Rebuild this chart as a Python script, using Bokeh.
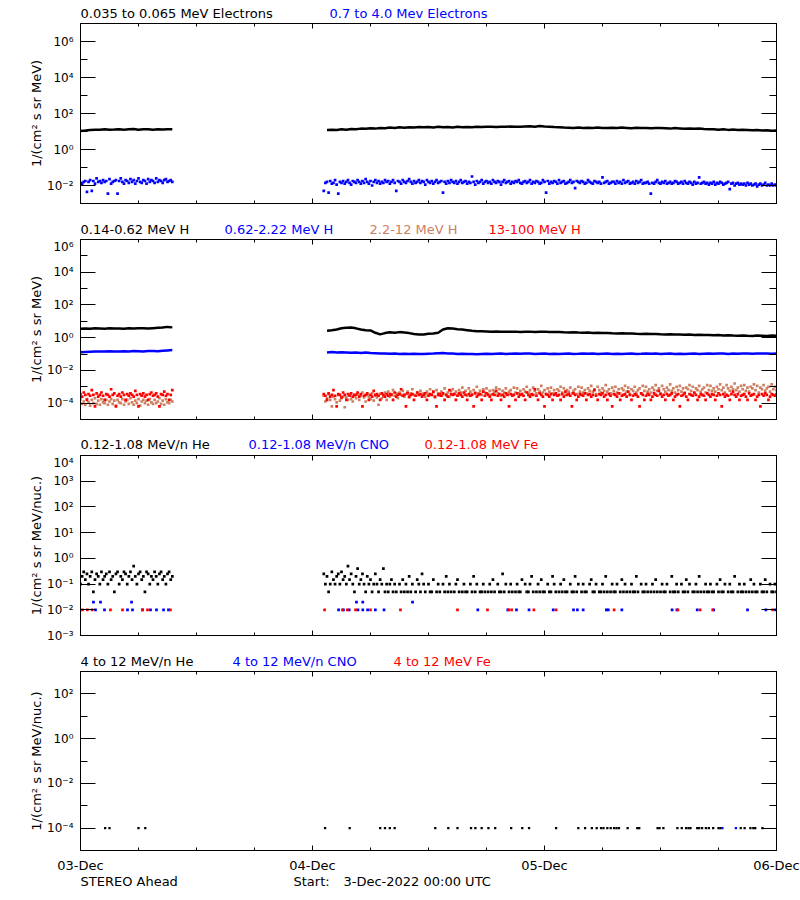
import json
import numpy as np
from bokeh.plotting import figure
from bokeh.layouts import column
from bokeh.models import Range1d, FixedTicker, CustomJSTickFormatter, LogAxis, LinearAxis
from bokeh.core.properties import value
from bokeh.embed import file_html
from bokeh.resources import INLINE

# ---------------- time bases (hours since 3-Dec-2022 00:00 UTC) ----------------
fine_minutes = np.concatenate([np.arange(0, 580, 10), np.arange(1510, 4321, 10)])     # 58 + 282
coarse_minutes = np.concatenate([np.arange(0, 600, 30), np.arange(1530, 4321, 30)])   # 20 + 94
N1_FINE, N1_COARSE = 58, 20

x_tick_hours = [0, 24, 48, 72]
x_minor_hours = [6, 12, 18, 30, 36, 42, 54, 60, 66]
x_tick_labels = ["03-Dec", "04-Dec", "05-Dec", "06-Dec"]

# ---------------- panel 1: electrons (log10 flux) ----------------
e_035_065_log = [
    1.03, 1.05, 1.08, 1.1, 1.1, 1.12, 1.1, 1.11, 1.13, 1.1, 1.12, 1.14, 1.1, 1.12, 1.13, 1.1, 1.12, 1.11, 1.13, 1.12,
    1.08, 1.1, 1.08, 1.12, 1.1, 1.14, 1.12, 1.16, 1.15, 1.18,
    1.16, 1.2, 1.18, 1.22, 1.2, 1.23, 1.21, 1.24, 1.22, 1.25,
    1.23, 1.25, 1.22, 1.26, 1.24, 1.25, 1.22, 1.26, 1.24, 1.25,
    1.24, 1.26, 1.25, 1.27, 1.26, 1.25, 1.27, 1.26, 1.28, 1.27,
    1.26, 1.28, 1.29, 1.27, 1.3, 1.28, 1.27, 1.25, 1.24, 1.22,
    1.21, 1.2, 1.22, 1.19, 1.21, 1.2, 1.22, 1.2, 1.19, 1.21,
    1.2, 1.22, 1.2, 1.18, 1.21, 1.19, 1.2, 1.18, 1.19, 1.2,
    1.18, 1.16, 1.19, 1.17, 1.15, 1.17, 1.15, 1.16, 1.14, 1.13,
    1.13, 1.1, 1.12, 1.09, 1.11, 1.08, 1.1, 1.09, 1.07, 1.08,
    1.06, 1.07, 1.04, 1.05]

e_07_40_log = [
    -1.85, -1.9, -1.8, -1.75, -2.35, -1.8, -1.7, -2.3, -1.75, -1.9,
    -1.6, -1.8, -1.75, -1.85, -1.7, -1.8, -1.75, -2.45, -1.65, -1.9,
    -1.8, -1.75, -1.7, -2.45, -1.75, -1.6, -1.8, -1.9, -1.7, -1.75,
    -1.85, -1.65, -1.8, -1.7, -1.9, -1.75, -1.6, -1.8, -1.85, -1.7,
    -1.75, -1.9, -1.65, -1.8, -1.7, -1.75, -1.85, -1.6, -1.8, -1.7,
    -1.75, -1.85, -1.7, -1.65, -1.8, -1.75, -1.7, -1.8,
    -2.3, -1.85, -1.8, -2.4, -1.75, -1.9, -1.85, -1.7, -1.95, -2.45,
    -1.8, -1.85, -1.75, -1.9, -1.8, -1.7, -1.85, -1.95, -1.75, -1.8,
    -1.85, -1.7, -1.8, -1.9, -1.75, -1.85, -1.65, -1.8, -1.9, -1.75,
    -2.0, -1.8, -1.7, -1.85, -1.75, -1.9, -1.8, -1.85, -1.7, -1.8,
    -1.75, -1.9, -1.8, -1.7, -1.85, -2.3, -1.75, -1.8, -1.9, -1.7,
    -1.8, -1.85, -1.75, -1.65, -1.8, -1.9, -1.75, -1.85, -1.8, -1.7,
    -1.85, -1.75, -1.8, -1.95, -1.7, -1.8, -1.85, -1.75, -1.9, -1.8,
    -1.7, -1.85, -1.8, -1.75, -2.4, -1.8, -1.9, -1.75, -1.85, -1.7,
    -1.8, -1.85, -1.75, -1.9, -1.8, -1.7, -1.85, -1.8, -1.75, -1.9,
    -1.8, -1.85, -1.5, -1.8, -1.95, -1.75, -1.85, -1.8, -1.7, -1.9,
    -1.8, -1.75, -1.85, -1.8, -1.9, -1.7, -1.8, -1.85, -1.75, -1.8,
    -1.95, -1.8, -1.7, -1.85, -1.8, -1.75, -1.9, -1.8, -1.85, -1.75,
    -1.8, -1.7, -1.85, -1.9, -1.8, -1.75, -1.85, -1.8, -1.7, -1.9,
    -1.8, -1.85, -1.75, -1.8, -1.9, -1.85, -1.7, -1.8, -2.4, -1.75,
    -1.9, -1.8, -1.85, -1.75, -1.8, -1.9, -1.7, -1.85, -1.8, -1.75,
    -1.9, -1.85, -1.8, -1.7, -1.85, -1.8, -2.15, -1.75, -1.8, -1.85,
    -1.75, -1.8, -1.9, -1.85, -1.7, -1.8, -1.85, -1.9, -1.75, -1.8,
    -1.85, -1.8, -1.9, -1.55, -1.85, -1.8, -1.75, -1.9, -1.85, -1.8,
    -1.8, -1.9, -1.75, -1.85, -1.8, -1.9, -1.7, -1.85, -1.8, -1.75,
    -1.9, -1.85, -1.8, -1.9, -1.75, -1.85, -1.8, -1.7, -1.9, -1.85,
    -1.85, -1.8, -1.9, -2.45, -1.85, -1.9, -1.8, -1.7, -1.85, -1.9,
    -1.8, -1.85, -1.75, -1.9, -1.85, -1.8, -1.9, -1.85, -1.75, -1.8,
    -1.9, -1.85, -1.8, -1.9, -1.75, -1.85, -1.9, -1.8, -1.85, -1.95,
    -1.8, -1.9, -1.85, -1.55, -1.9, -1.85, -1.8, -1.9, -1.85, -1.95,
    -1.85, -1.9, -1.8, -1.95, -1.85, -1.9, -1.8, -1.85, -1.95, -1.9,
    -1.85, -1.8, -2.2, -1.9, -1.85, -2.0, -1.9, -1.85, -1.95, -1.9,
    -1.95, -1.9, -2.0, -1.85, -1.95, -1.9, -2.0, -1.95, -1.9, -2.05,
    -1.95, -1.9, -2.0, -1.95, -1.85, -2.0, -1.95, -2.0, -1.9, -2.0,
    -1.95, -2.0]

# ---------------- panel 2: protons (log10 flux) ----------------
h_014_062_log = [
    0.55, 0.56, 0.55, 0.57, 0.56, 0.55, 0.57, 0.56, 0.56, 0.55, 0.57, 0.56, 0.58, 0.57, 0.56, 0.58, 0.6, 0.62, 0.66, 0.63,
    0.42, 0.45, 0.5, 0.58, 0.6, 0.62, 0.57, 0.5, 0.46, 0.44,
    0.3, 0.2, 0.28, 0.33, 0.3, 0.34, 0.31, 0.28, 0.22, 0.2,
    0.2, 0.24, 0.26, 0.3, 0.5, 0.58, 0.56, 0.52, 0.5, 0.46,
    0.42, 0.4, 0.39, 0.38, 0.37, 0.38, 0.36, 0.37, 0.36, 0.37,
    0.35, 0.36, 0.37, 0.35, 0.36, 0.37, 0.35, 0.34, 0.35, 0.33,
    0.32, 0.33, 0.31, 0.3, 0.31, 0.29, 0.3, 0.28, 0.29, 0.27,
    0.26, 0.27, 0.25, 0.26, 0.24, 0.23, 0.24, 0.22, 0.23, 0.21,
    0.2, 0.21, 0.19, 0.2, 0.18, 0.19, 0.17, 0.18, 0.16, 0.17,
    0.15, 0.16, 0.14, 0.15, 0.13, 0.12, 0.14, 0.12, 0.11, 0.13,
    0.12, 0.11, 0.13, 0.12]

h_062_222_log = [
    -0.89, -0.87, -0.86, -0.85, -0.84, -0.85, -0.83, -0.84, -0.85, -0.83,
    -0.84, -0.82, -0.83, -0.84, -0.82, -0.81, -0.83, -0.8, -0.78, -0.76,
    -0.9, -0.88, -0.91, -0.89, -0.9, -0.92, -0.9, -0.93, -0.91, -0.94,
    -0.95, -0.97, -0.96, -0.98, -0.97, -0.99, -0.98, -1.0, -0.98, -0.99,
    -1.0, -0.98, -0.97, -0.95, -0.94, -0.96, -0.97, -0.99, -0.98, -1.0,
    -0.99, -1.01, -0.99, -0.98, -1.0, -0.98, -0.97, -0.99, -0.98, -0.97,
    -0.98, -0.96, -0.97, -0.99, -0.98, -0.97, -0.99, -0.98, -1.0, -0.98,
    -0.97, -0.99, -0.98, -0.96, -0.98, -0.97, -0.99, -0.98, -0.97, -0.99,
    -0.98, -1.0, -0.98, -0.97, -0.99, -0.98, -0.96, -0.98, -0.97, -0.99,
    -0.98, -0.97, -0.99, -0.98, -1.0, -0.98, -0.97, -0.99, -0.98, -0.97,
    -0.98, -0.96, -0.97, -0.99, -0.97, -0.98, -0.96, -0.97, -0.98, -0.96,
    -0.97, -0.96, -0.98, -0.97]

h_22_12_log = [
    -3.75, -4.05, -3.9, -4.1, -3.75, -3.95, -4.15, -3.8, -4.0, -3.7,
    -4.05, -3.85, -4.1, -3.75, -3.95, -4.0, -3.8, -4.1, -3.9, -3.75,
    -4.05, -3.85, -4.15, -3.8, -3.95, -4.0, -3.75, -4.1, -3.9, -3.8,
    -4.05, -3.7, -3.95, -4.1, -3.85, -4.0, -3.75, -4.15, -3.9, -3.8,
    -4.0, -3.85, -4.1, -3.75, -3.95, -4.05, -3.8, -4.0, -3.9, -3.7,
    -4.05, -3.85, -4.1, -3.75, -3.95, -4.0, -3.8, -3.9,
    -3.55, -3.9, -3.7, -3.45, -3.8, -4.2, -3.6, -3.75, -3.95, -3.5,
    -3.85, -3.7, -3.6, -4.25, -3.65, -3.8, -3.5, -3.75, -3.9, -3.55,
    -3.7, -3.45, -3.8, -3.55, -3.35, -3.65, -3.9, -3.5, -3.6, -3.75,
    -3.4, -3.85, -3.55, -3.65, -4.1, -3.45, -3.7, -3.6, -3.35, -3.8,
    -3.3, -3.6, -3.45, -3.2, -3.55, -3.4, -3.7, -3.35, -3.5, -3.25,
    -3.6, -3.45, -3.3, -3.65, -3.4, -3.15, -3.5, -3.55, -3.35, -3.45,
    -3.25, -3.55, -3.4, -3.6, -3.3, -3.45, -3.15, -3.5, -3.35, -3.65,
    -3.2, -3.4, -3.55, -3.3, -3.45, -3.1, -3.5, -3.35, -3.6, -3.25,
    -3.15, -3.45, -3.3, -3.5, -3.2, -3.35, -3.05, -3.4, -3.25, -3.55,
    -3.1, -3.3, -3.45, -3.2, -3.35, -3.0, -3.4, -3.25, -3.5, -3.15,
    -3.35, -3.1, -3.45, -3.25, -3.5, -3.2, -3.3, -3.05, -3.4, -3.15,
    -3.55, -3.25, -3.35, -3.1, -3.45, -3.3, -3.2, -3.5, -3.05, -3.35,
    -3.1, -3.4, -3.25, -3.45, -3.15, -3.3, -3.0, -3.35, -3.2, -3.5,
    -3.05, -3.25, -3.4, -3.15, -3.3, -2.95, -3.35, -3.2, -3.45, -3.1,
    -3.3, -3.05, -3.4, -3.2, -3.45, -3.15, -3.25, -3.0, -3.35, -3.1,
    -3.5, -3.2, -3.3, -3.05, -3.4, -3.25, -3.15, -3.45, -3.0, -3.3,
    -3.05, -3.35, -3.2, -3.4, -3.1, -3.25, -2.95, -3.3, -3.15, -3.45,
    -3.0, -3.2, -3.35, -3.1, -3.25, -2.9, -3.3, -3.15, -3.4, -3.05,
    -3.25, -3.0, -3.35, -3.15, -3.4, -3.1, -3.2, -2.95, -3.3, -3.05,
    -3.45, -3.15, -3.25, -3.0, -3.35, -3.2, -3.1, -3.4, -2.95, -3.25,
    -3.0, -3.3, -3.15, -3.35, -3.05, -3.2, -2.9, -3.25, -3.1, -3.4,
    -2.95, -3.15, -3.3, -3.05, -3.2, -2.85, -3.25, -3.1, -3.35, -3.0,
    -3.2, -2.95, -3.3, -3.1, -3.35, -3.05, -3.15, -2.9, -3.25, -3.0,
    -3.4, -3.1, -3.2, -2.95, -3.3, -3.15, -3.05, -3.35, -2.9, -3.2,
    -2.95, -3.25, -3.1, -3.3, -3.0, -3.15, -2.85, -3.2, -3.05, -3.35,
    -2.9, -3.1, -3.25, -3.0, -3.15, -2.8, -3.2, -3.05, -3.3, -2.95,
    -3.15, -2.9, -3.25, -3.05, -3.3, -3.0, -3.1, -2.85, -3.2, -2.95,
    -3.35, -3.05, -3.15, -2.9, -3.25, -3.1, -3.0, -3.3, -2.85, -3.15,
    -3.0, -3.2]

h_13_100_log = [
    -3.45, -3.6, -3.35, -3.5, -3.8, -3.45, -3.55, -3.2, -3.5, -4.2,
    -3.4, -3.6, -3.5, -3.35, -3.55, -3.8, -3.45, -3.5, -3.6, -3.15,
    -3.5, -3.4, -4.2, -3.55, -3.45, -3.6, -3.35, -3.5, -3.8, -3.45,
    -3.55, -3.4, -3.5, -3.6, -3.25, -3.5, -4.2, -3.45, -3.55, -3.4,
    -3.6, -3.5, -3.8, -3.45, -3.35, -3.55, -3.5, -3.4, -3.6, -4.2,
    -3.45, -3.5, -3.3, -3.55, -3.45, -3.8, -3.5, -3.2,
    -3.45, -3.55, -3.8, -3.4, -3.6, -3.5, -3.2, -3.55, -4.2, -3.45,
    -3.5, -3.65, -3.35, -3.5, -3.8, -3.45, -3.55, -3.4, -3.6, -3.5,
    -3.5, -3.35, -3.6, -3.45, -4.2, -3.55, -3.5, -3.4, -3.8, -3.5,
    -3.6, -3.25, -3.5, -3.45, -3.55, -3.8, -3.4, -3.5, -3.6, -3.45,
    -3.55, -3.45, -3.5, -3.8, -3.35, -3.6, -3.5, -3.45, -3.15, -3.55,
    -3.5, -4.2, -3.4, -3.6, -3.5, -3.45, -3.8, -3.55, -3.35, -3.5,
    -3.45, -3.6, -3.5, -3.4, -3.8, -3.55, -3.45, -3.5, -3.3, -3.6,
    -4.2, -3.5, -3.45, -3.55, -3.4, -3.8, -3.5, -3.6, -3.2, -3.45,
    -3.5, -3.45, -3.8, -3.55, -3.4, -3.5, -3.6, -3.35, -3.5, -3.8,
    -3.45, -3.55, -3.5, -4.2, -3.4, -3.6, -3.5, -3.45, -3.8, -3.3,
    -3.55, -3.4, -3.5, -3.6, -3.8, -3.45, -3.5, -3.25, -3.55, -3.45,
    -3.8, -3.5, -3.6, -3.4, -3.5, -4.2, -3.45, -3.55, -3.5, -3.8,
    -3.4, -3.6, -3.5, -3.45, -3.55, -3.8, -3.35, -3.5, -3.6, -3.45,
    -3.5, -3.15, -3.55, -3.8, -3.4, -3.5, -3.6, -4.2, -3.45, -3.5,
    -3.6, -3.45, -3.8, -3.5, -3.4, -3.55, -3.5, -3.8, -3.45, -3.6,
    -3.3, -3.5, -3.45, -3.55, -4.2, -3.4, -3.5, -3.8, -3.6, -3.45,
    -3.5, -3.55, -3.4, -3.8, -3.5, -3.45, -3.6, -3.5, -3.2, -3.55,
    -3.8, -3.45, -3.5, -3.4, -3.6, -3.5, -3.8, -3.45, -3.55, -4.2,
    -3.45, -3.5, -3.6, -3.4, -3.8, -3.55, -3.5, -3.45, -3.6, -3.3,
    -3.5, -3.8, -3.55, -3.45, -3.5, -3.6, -4.2, -3.4, -3.5, -3.8,
    -3.55, -3.45, -3.5, -3.8, -3.6, -3.4, -3.5, -3.55, -3.25, -3.45,
    -3.6, -3.5, -3.8, -3.45, -3.55, -3.5, -3.4, -3.8, -3.6, -3.5,
    -3.45, -4.2, -3.55, -3.5, -3.4, -3.6, -3.8, -3.45, -3.5, -3.55,
    -3.35, -3.5, -3.8, -3.6, -3.45, -3.5, -3.55, -3.8, -3.4, -3.5,
    -3.6, -3.45, -3.5, -3.8, -3.55, -3.4, -3.5, -4.2, -3.45, -3.6,
    -3.5, -3.55, -3.8, -3.45, -3.3, -3.5, -3.6, -3.45, -3.8, -3.55,
    -3.5, -3.45, -3.6, -3.8, -3.4, -3.55, -3.5, -3.45, -3.8, -3.6,
    -3.5, -4.2, -3.45, -3.55, -3.4, -3.5, -3.8, -3.6, -3.45, -3.5,
    -3.55, -3.45]

# ---------------- panel 3: 0.12-1.08 MeV/n ions (flux; 0 = no counts) ----------------
he_012_108 = [
    0.1, 0.2, 0.3, 0.15, 0.25, 0.1, 0.2, 0.3, 0.05, 0.15,
    0.25, 0.2, 0.1, 0.3, 0.15, 0.2, 0.25, 0.1, 0.3, 0.15,
    0.2, 0.05, 0.25, 0.3, 0.1, 0.2, 0.15, 0.3, 0.25, 0.1,
    0.2, 0.3, 0.15, 0.5, 0.2, 0.1, 0.25, 0.3, 0.15, 0.2,
    0.05, 0.3, 0.25, 0.1, 0.2, 0.15, 0.3, 0.2, 0.1, 0.25,
    0.3, 0.15, 0.2, 0.1, 0.25, 0.3, 0.15, 0.2,
    0.25, 0.1, 0.2, 0.05, 0.1, 0.3, 0.15, 0.1, 0.2, 0.25,
    0.1, 0.3, 0.15, 0.2, 0.1, 0.5, 0.15, 0.25, 0.1, 0.05,
    0.2, 0.4, 0.1, 0.15, 0.25, 0.1, 0.05, 0.2, 0.1, 0.15,
    0.05, 0.1, 0.25, 0.1, 0.05, 0.15, 0.1, 0.4, 0.05, 0.1,
    0.05, 0.1, 0.15, 0.05, 0.1, 0.05, 0, 0.1, 0.05, 0.15,
    0.05, 0.1, 0.05, 0.2, 0.05, 0.1, 0, 0.05, 0.15, 0.1,
    0.05, 0.25, 0.1, 0.05, 0, 0.1, 0.05, 0.05, 0.15, 0,
    0.05, 0.1, 0.05, 0, 0.1, 0.05, 0.2, 0.05, 0.1, 0.05,
    0, 0.05, 0.1, 0.15, 0.05, 0, 0.05, 0.1, 0.05, 0.05,
    0, 0.1, 0.05, 0.2, 0.05, 0.1, 0, 0.05, 0.05, 0.1,
    0.05, 0, 0.05, 0.1, 0.05, 0.15, 0.05, 0, 0.1, 0.05,
    0.05, 0.25, 0.05, 0.1, 0, 0.05, 0.1, 0.05, 0, 0.05,
    0.1, 0.05, 0.05, 0.15, 0, 0.1, 0.05, 0.05, 0.1, 0.2,
    0.05, 0, 0.05, 0.1, 0.05, 0.15, 0.05, 0.05, 0, 0.1,
    0.05, 0.05, 0.2, 0.1, 0.05, 0, 0.05, 0.1, 0.05, 0.15,
    0.05, 0.05, 0, 0.1, 0.05, 0.05, 0.2, 0.05, 0.1, 0,
    0.05, 0.1, 0.05, 0.05, 0, 0.1, 0.15, 0.05, 0.05, 0.1,
    0, 0.05, 0.05, 0.1, 0.05, 0.2, 0.05, 0, 0.05, 0.1,
    0.05, 0.05, 0.1, 0, 0.05, 0.15, 0.05, 0.1, 0.05, 0,
    0.05, 0.1, 0.05, 0.05, 0.2, 0.05, 0, 0.1, 0.05, 0.05,
    0.1, 0.05, 0, 0.05, 0.1, 0.05, 0.15, 0.05, 0, 0.05,
    0.1, 0.05, 0.05, 0.1, 0, 0.05, 0.2, 0.05, 0.05, 0.1,
    0.05, 0, 0.1, 0.05, 0.05, 0.15, 0.05, 0.1, 0, 0.05,
    0.05, 0.1, 0.05, 0.2, 0.05, 0, 0.05, 0.1, 0.05, 0.05,
    0.1, 0.05, 0.05, 0, 0.1, 0.05, 0.15, 0.05, 0.05, 0.1,
    0, 0.05, 0.1, 0.05, 0.05, 0.2, 0, 0.05, 0.1, 0.05,
    0.05, 0.1, 0.05, 0, 0.05, 0.15, 0.05, 0.1, 0.05, 0.05,
    0, 0.1, 0.05, 0.05, 0.15, 0.05, 0, 0.1, 0.05, 0.05,
    0.1, 0.05]

cno_012_108_hours = [1.34, 1.55, 2.07, 2.48, 4.86, 5.28, 5.38, 6.41, 7.24, 7.86, 8.59, 9.1,
                     26.7, 27.2, 27.8, 28.55, 28.7, 29.2, 29.2, 29.7, 30.5, 31.4, 34.35, 41.1, 44.2, 45.1, 46.4,
                     48.9, 51.0, 51.4, 52.0, 54.4, 54.6, 56.0, 61.2, 61.7, 63.8, 65.5, 69.0, 70.9, 71.9]
cno_012_108_flux = [0.02, 0.01, 0.02, 0.01, 0.01, 0.02, 0.01, 0.01, 0.01, 0.01, 0.01, 0.01,
                    0.01, 0.01, 0.01, 0.02, 0.01, 0.01, 0.02, 0.01, 0.01, 0.01, 0.02, 0.01, 0.01, 0.01, 0.01,
                    0.01, 0.01, 0.01, 0.01, 0.01, 0.01, 0.01, 0.01, 0.01, 0.01, 0.01, 0.01, 0.01, 0.01]
fe_012_108_hours = [0.2, 0.7, 1.2, 3.1, 4.35, 6.41, 6.93, 9.3,
                    25.25, 27.1, 27.6, 28.45, 30.0, 33.1, 39.0, 42.1, 44.3, 44.6, 46.9, 49.2, 55.2,
                    61.8, 64.1, 65.4, 71.6]
fe_012_108_flux = [0.01, 0.01, 0.01, 0.01, 0.01, 0.01, 0.01, 0.01,
                   0.01, 0.01, 0.01, 0.01, 0.01, 0.01, 0.01, 0.01, 0.01, 0.01, 0.01, 0.01, 0.01,
                   0.01, 0.01, 0.01, 0.01]

# ---------------- panel 4: 4-12 MeV/n ions ----------------
he_4_12_hours = [2.55, 3.0, 6.0, 6.7, 25.3, 27.85, 31.0, 31.5, 32.0, 32.5, 36.7, 38.05, 39.0, 40.4, 40.85,
                 41.5, 42.2, 42.9, 44.55, 45.7, 46.4, 49.2, 51.5, 52.2, 52.9, 53.4, 53.85, 54.1, 54.5, 54.85,
                 55.2, 55.45, 55.7, 56.6, 57.6, 57.8, 59.7, 59.9, 60.3, 61.75, 62.2, 62.65, 62.9, 63.1, 63.8,
                 64.0, 64.3, 64.7, 65.0, 65.45, 66.0, 66.2, 68.3, 68.7, 69.3, 69.6, 69.8, 70.55]
he_4_12_flux = [1e-4] * len(he_4_12_hours)
cno_4_12_hours = [66.4, 67.8]
cno_4_12_flux = [1e-4, 1e-4]

BLACK, BLUE, RED, SIENNA = "#000000", "#0000ff", "#ff0000", "#cd8162"
FONT = "DejaVu Sans"
W, LEFT, RIGHT = 800, 80, 24

t_fine = fine_minutes / 60.0
t_coarse = coarse_minutes / 60.0

pow_fmt = CustomJSTickFormatter(code=r"""
const e = Math.round(Math.log10(tick));
const m = {"-": "\u207b", "0": "\u2070", "1": "\u00b9", "2": "\u00b2", "3": "\u00b3",
           "4": "\u2074", "5": "\u2075", "6": "\u2076", "7": "\u2077", "8": "\u2078", "9": "\u2079"};
return "10" + String(e).split("").map(c => m[c]).join("");
""")
blank_fmt = CustomJSTickFormatter(code="return '';")
date_fmt = CustomJSTickFormatter(code="const names = %s; return names[Math.round(tick / 24)];" % json.dumps(x_tick_labels))


def hours_at(px):
    return (px - LEFT) * 72.0 / (W - LEFT - RIGHT)


def text_strip(height, frac, parts):
    """A thin borderless strip that carries a row of coloured texts."""
    s = figure(width=W, height=height, output_backend="svg", toolbar_location=None,
               x_range=Range1d(0, 72), y_range=Range1d(0, 1), x_axis_location=None, y_axis_location=None,
               min_border=0, min_border_left=LEFT, min_border_right=RIGHT, min_border_top=0, min_border_bottom=0,
               outline_line_color=None, background_fill_color="white", border_fill_color="white")
    s.xgrid.visible = False
    s.ygrid.visible = False
    for px, txt, col in parts:
        s.text(x=[hours_at(px)], y=[frac], text=[txt], text_color=col, text_font=value(FONT),
               text_font_size=value("13px"), text_baseline=value("middle"), text_align=value("left"))
    return s


def make_panel(height, bottom, lo_exp, hi_exp, major, minor, ylabel, show_x):
    p = figure(width=W, height=height, output_backend="svg", toolbar_location=None,
               x_range=Range1d(0, 72), y_range=Range1d(10.0 ** lo_exp, 10.0 ** hi_exp), y_axis_type="log",
               min_border=0, min_border_left=LEFT, min_border_right=RIGHT, min_border_top=0, min_border_bottom=bottom,
               outline_line_color="black", background_fill_color="white", border_fill_color="white")
    p.xgrid.visible = False
    p.ygrid.visible = False
    yt = FixedTicker(ticks=major, minor_ticks=minor)
    xt = FixedTicker(ticks=x_tick_hours, minor_ticks=x_minor_hours)

    ya = p.yaxis[0]
    ya.ticker = yt
    ya.formatter = pow_fmt
    ya.major_tick_in, ya.major_tick_out = 15, 0
    ya.minor_tick_in, ya.minor_tick_out = 7, 0
    ya.major_label_standoff = 7
    ya.major_label_text_font = FONT
    ya.major_label_text_font_size = "12px"
    ya.major_label_text_color = "black"
    ya.axis_label = ylabel
    ya.axis_label_text_font = FONT
    ya.axis_label_text_font_size = "13px"
    ya.axis_label_text_font_style = "normal"
    ya.axis_label_text_color = "black"
    ya.axis_label_standoff = 0

    xa = p.xaxis[0]
    xa.ticker = xt
    xa.major_tick_in, xa.major_tick_out = 5, 0
    xa.minor_tick_in, xa.minor_tick_out = 3, 0
    if show_x:
        xa.formatter = date_fmt
        xa.major_label_standoff = 7
        xa.major_label_text_font = FONT
        xa.major_label_text_font_size = "13px"
        xa.major_label_text_color = "black"
    else:
        xa.formatter = blank_fmt
        xa.major_label_standoff = 0
        xa.major_label_text_font_size = "0px"

    ra = LogAxis(ticker=yt, formatter=blank_fmt, major_label_text_font_size="0px", major_label_standoff=0,
                 major_tick_in=15, major_tick_out=0, minor_tick_in=7, minor_tick_out=0)
    p.add_layout(ra, "right")
    ta = LinearAxis(ticker=xt, formatter=blank_fmt, major_label_text_font_size="0px", major_label_standoff=0,
                    major_tick_in=5, major_tick_out=0, minor_tick_in=3, minor_tick_out=0)
    p.add_layout(ta, "above")
    return p


def dots(p, t, v, col, size=2.7):
    t = np.asarray(t, dtype=float)
    v = np.asarray(v, dtype=float)
    keep = v > 0
    p.scatter(t[keep], v[keep], marker="square", size=size, fill_color=col, line_color=None)


def seg_line(p, t, logv, n1, col, w):
    v = 10.0 ** np.asarray(logv)
    p.line(t[:n1], v[:n1], line_color=col, line_width=w)
    p.line(t[n1:], v[n1:], line_color=col, line_width=w)


label_mev = "1/(cm\u00b2 s sr MeV)"
label_nuc = "1/(cm\u00b2 s sr MeV/nuc.)"

# panel 1  (strip 0-23, frame 23-203)
s1 = text_strip(23, 0.435, [(80, "0.035 to 0.065 MeV Electrons", BLACK), (329, "0.7 to 4.0 Mev Electrons", BLUE)])
p1 = make_panel(188, 8, -3, 7, [1e-2, 1e0, 1e2, 1e4, 1e6], [1e-3, 1e-1, 1e1, 1e3, 1e5, 1e7], label_mev, False)
seg_line(p1, t_coarse, e_035_065_log, N1_COARSE, BLACK, 2.5)
dots(p1, t_fine, 10.0 ** np.asarray(e_07_40_log), BLUE)

# panel 2  (strip 211-239, frame 239-419)
s2 = text_strip(28, 0.357, [(80, "0.14-0.62 MeV H", BLACK), (224, "0.62-2.22 MeV H", BLUE),
                            (369, "2.2-12 MeV H", SIENNA), (488, "13-100 MeV H", RED)])
p2 = make_panel(188, 8, -5, 6, [1e-4, 1e-2, 1e0, 1e2, 1e4, 1e6], [1e-5, 1e-3, 1e-1, 1e1, 1e3, 1e5], label_mev, False)
seg_line(p2, t_coarse, h_014_062_log, N1_COARSE, BLACK, 2.5)
seg_line(p2, t_coarse, h_062_222_log, N1_COARSE, BLUE, 2.5)
dots(p2, t_fine, 10.0 ** np.asarray(h_22_12_log), SIENNA)
dots(p2, t_fine, 10.0 ** np.asarray(h_13_100_log), RED)

# panel 3  (strip 427-455, frame 455-635)
s3 = text_strip(28, 0.393, [(80, "0.12-1.08 MeV/n He", BLACK), (248, "0.12-1.08 MeV/n CNO", BLUE),
                            (424, "0.12-1.08 MeV Fe", RED)])
p3 = make_panel(188, 8, -3, 4, [1e-3, 1e-2, 1e-1, 1e0, 1e1, 1e2, 1e3, 1e4], [], label_nuc, False)
dots(p3, t_fine, he_012_108, BLACK)
dots(p3, cno_012_108_hours, cno_012_108_flux, BLUE)
dots(p3, fe_012_108_hours, fe_012_108_flux, RED)

# panel 4  (strip 643-671, frame 671-851)
s4 = text_strip(28, 0.357, [(80, "4 to 12 MeV/n He", BLACK), (232, "4 to 12 MeV/n CNO", BLUE),
                            (393, "4 to 12 MeV Fe", RED)])
p4 = make_panel(204, 24, -5, 3, [1e-4, 1e-2, 1e0, 1e2], [1e-5, 1e-3, 1e-1, 1e1, 1e3], label_nuc, True)
dots(p4, he_4_12_hours, he_4_12_flux, BLACK, size=2.3)
dots(p4, cno_4_12_hours, cno_4_12_flux, BLUE, size=2.3)

s5 = text_strip(25, 0.76, [(80, "STEREO Ahead", BLACK), (293, "Start:", BLACK), (343, "3-Dec-2022 00:00 UTC", BLACK)])

layout = column(s1, p1, s2, p2, s3, p3, s4, p4, s5)
open("out.html", "w").write(file_html(layout, INLINE))
